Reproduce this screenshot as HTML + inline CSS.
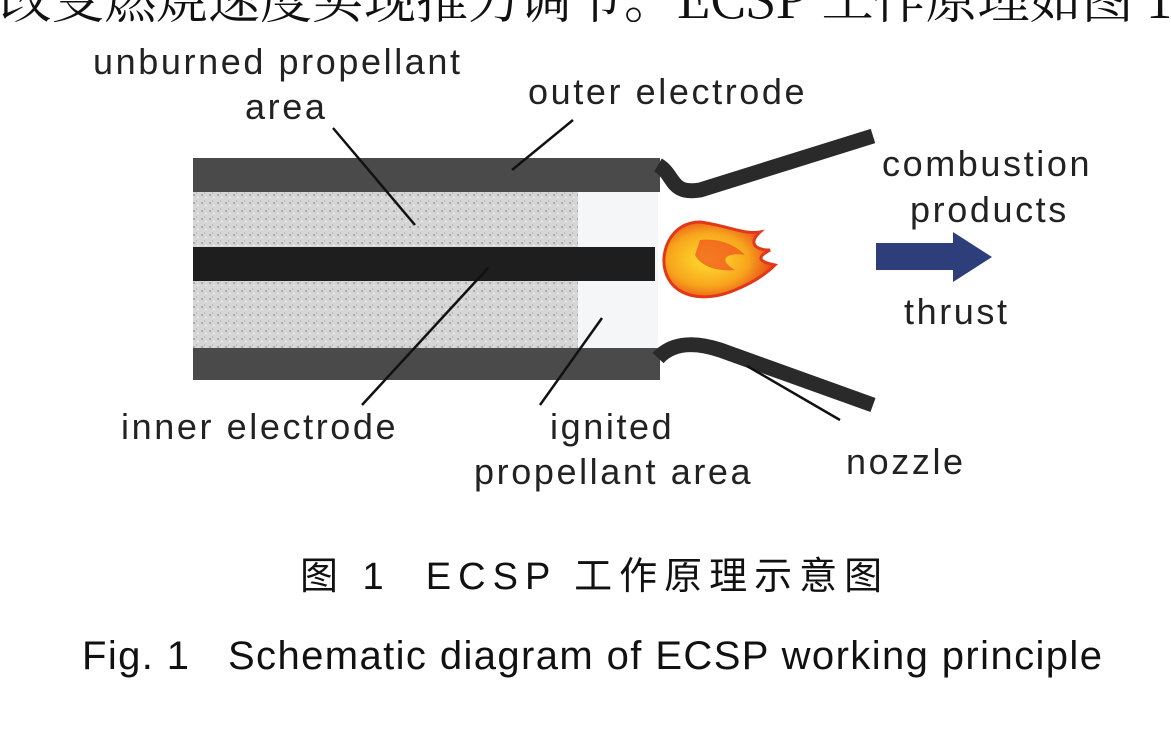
<!DOCTYPE html>
<html><head><meta charset="utf-8"><style>
body{margin:0;width:1171px;height:730px;overflow:hidden;background:#fff;position:relative;font-family:"Liberation Sans","Noto Sans CJK SC",sans-serif;}
.t{position:absolute;font-size:36px;color:#222;white-space:nowrap;letter-spacing:2.6px;line-height:1}
</style></head><body>
<div class="t" style="left:0;top:-30px;width:1171px;overflow:hidden;font-size:52px;letter-spacing:0;color:#111;font-family:'Noto Serif CJK SC',serif;">改变燃烧速度实现推力调节。ECSP 工作原理如图 1 所示。</div>
<svg width="1171" height="730" style="position:absolute;left:0;top:0">
<defs>
<pattern id="n" width="8" height="8" patternUnits="userSpaceOnUse">
<rect width="8" height="8" fill="#d6d6d6"/><rect x="1" y="2" width="2" height="2" fill="#a9a9a9"/><rect x="5" y="5" width="2" height="1" fill="#f0f0f0"/><rect x="4" y="0" width="1" height="2" fill="#bbb"/>
</pattern>
<radialGradient id="f" cx="0.4" cy="0.5" r="0.6"><stop offset="0" stop-color="#ffe030"/><stop offset="0.6" stop-color="#f7a51c"/><stop offset="1" stop-color="#e8401a"/></radialGradient>
</defs>
<rect x="193" y="190" width="385" height="160" fill="url(#n)"/>
<rect x="578" y="190" width="80" height="160" fill="#f4f6f8"/>
<rect x="193" y="158" width="467" height="34" fill="#4a4a4a"/>
<rect x="193" y="348" width="467" height="32" fill="#4a4a4a"/>
<rect x="193" y="247" width="462" height="34" fill="#1e1e1e"/>
<path d="M658 165 C675 175,670 195,700 190 L873 136" stroke="#2a2a2a" stroke-width="15" fill="none"/>
<path d="M658 358 C670 345,690 340,720 350 L873 405" stroke="#2a2a2a" stroke-width="15" fill="none"/>
<path d="M700 222 C672 222,660 250,665 270 C672 298,705 303,735 290 C752 283,765 275,775 265 C760 262,755 258,770 250 C755 250,748 243,760 232 C745 235,725 225,700 222Z" fill="url(#f)" stroke="#e2381a" stroke-width="3"/>
<path d="M700 240 C720 238,735 245,745 255 C730 252,715 258,735 270 C715 272,700 265,695 255Z" fill="#f0501c" opacity="0.7"/>
<path d="M876 243 L953 243 L953 232 L992 257 L953 282 L953 270 L876 270Z" fill="#2e3e7a"/>
<g stroke="#111" stroke-width="2.5">
<line x1="333" y1="128" x2="415" y2="225"/>
<line x1="573" y1="120" x2="512" y2="170"/>
<line x1="488" y1="268" x2="362" y2="405"/>
<line x1="602" y1="318" x2="540" y2="405"/>
<line x1="747" y1="366" x2="840" y2="420"/>
</g>
</svg>
<div class="t" style="left:93px;top:44px;">unburned propellant</div>
<div class="t" style="left:245px;top:89px;">area</div>
<div class="t" style="left:528px;top:74px;">outer electrode</div>
<div class="t" style="left:882px;top:146px;">combustion</div>
<div class="t" style="left:910px;top:192px;">products</div>
<div class="t" style="left:904px;top:294px;">thrust</div>
<div class="t" style="left:121px;top:409px;">inner electrode</div>
<div class="t" style="left:550px;top:409px;">ignited</div>
<div class="t" style="left:474px;top:454px;">propellant area</div>
<div class="t" style="left:846px;top:444px;">nozzle</div>
<div class="t" style="left:300px;top:558px;font-size:38px;color:#111;letter-spacing:7px;">图 1&nbsp;&nbsp;ECSP 工作原理示意图</div>
<div class="t" style="left:82px;top:636px;font-size:40px;color:#111;letter-spacing:1.4px;">Fig. 1&nbsp;&nbsp;&nbsp;Schematic diagram of ECSP working principle</div>
</body></html>
